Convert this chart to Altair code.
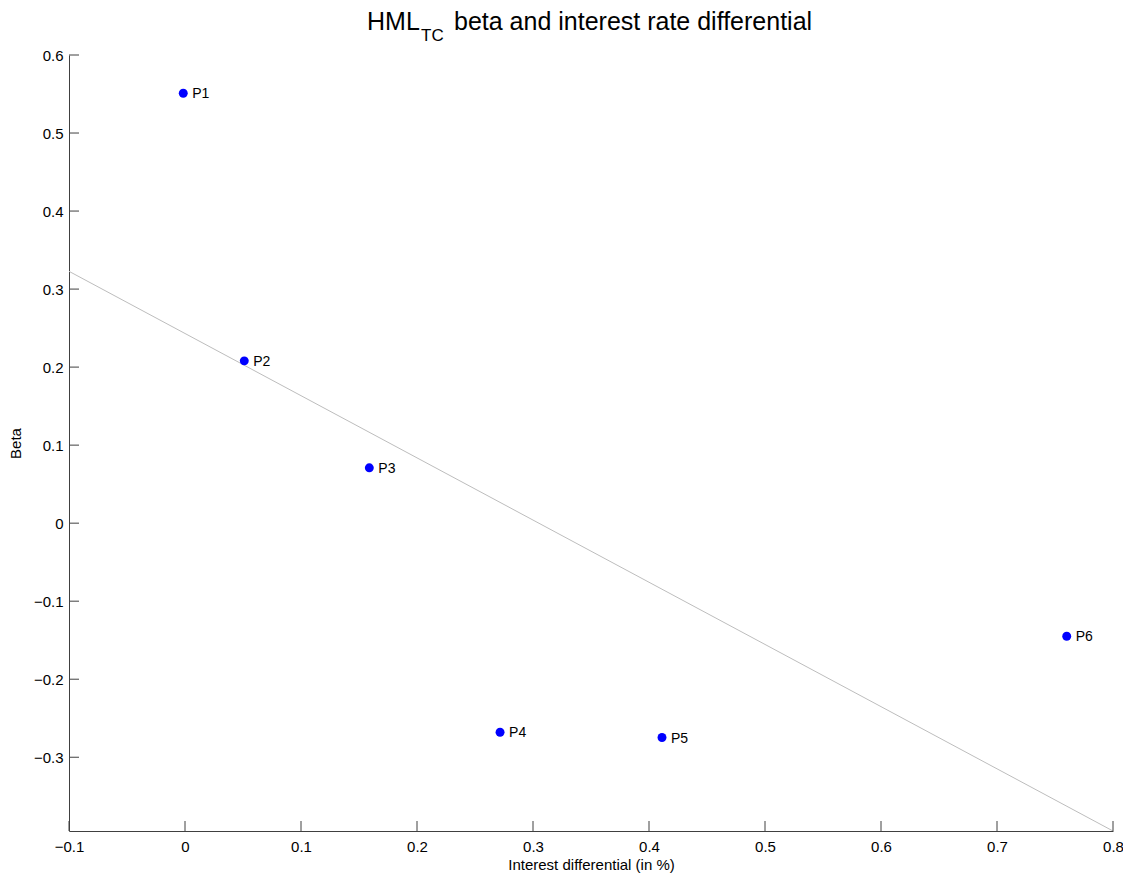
import altair as alt
import numpy as np
import pandas as pd

# Data
labels = ["P1", "P2", "P3", "P4", "P5", "P6"]
interest_diff = [-0.0015, 0.0511, 0.1589, 0.2716, 0.4112, 0.7601]
beta = [0.551, 0.208, 0.0709, -0.268, -0.2747, -0.1449]

x_ticks = [-0.1, 0, 0.1, 0.2, 0.3, 0.4, 0.5, 0.6, 0.7, 0.8]
y_ticks = [-0.3, -0.2, -0.1, 0, 0.1, 0.2, 0.3, 0.4, 0.5, 0.6]

df = pd.DataFrame({"label": labels, "x": interest_diff, "y": beta})

# lower y limit = regression line value at x = 0.8 (axis tight to the fit line)
slope, intercept = np.polyfit(interest_diff, beta, 1)
y_min = float(slope * 0.8 + intercept)

W, H = 1044, 776
FONT = "Liberation Sans"
AX = "#404040"

xs = alt.Scale(domain=[-0.1, 0.8], nice=False, zero=False)
ys = alt.Scale(domain=[y_min, 0.6], nice=False, zero=False)

x_axis = alt.Axis(values=x_ticks, format="~g", title="Interest differential (in %)",
                  grid=False, ticks=False, domainColor=AX, domainWidth=1, labelFlush=False,
                  labelFont=FONT, labelFontSize=15, labelColor="black", labelPadding=8,
                  titleFont=FONT, titleFontSize=15, titleFontWeight="normal", titleColor="black",
                  titlePadding=3)
y_axis = alt.Axis(values=y_ticks, format="~g", title="Beta",
                  grid=False, ticks=False, domainColor=AX, domainWidth=1, labelFlush=False,
                  labelFont=FONT, labelFontSize=15, labelColor="black", labelPadding=6,
                  titleFont=FONT, titleFontSize=15, titleFontWeight="normal", titleColor="black",
                  titlePadding=10)

base = alt.Chart(df)

fit = base.transform_regression("x", "y", extent=[-0.1, 0.8]).mark_line(
    color="#bdbdbd", strokeWidth=1, clip=True
).encode(x=alt.X("x:Q", scale=xs, axis=x_axis), y=alt.Y("y:Q", scale=ys, axis=y_axis))

pts = base.mark_point(filled=True, color="#0000ff", size=80, opacity=1, shape="circle").encode(
    x=alt.X("x:Q", scale=xs), y=alt.Y("y:Q", scale=ys)
)

txt = base.mark_text(align="left", baseline="middle", dx=9, dy=1, font=FONT, fontSize=14,
                     color="black").encode(
    x=alt.X("x:Q", scale=xs), y=alt.Y("y:Q", scale=ys), text="label:N"
)

xt = alt.Chart(pd.DataFrame({"t": x_ticks})).mark_rule(color=AX, strokeWidth=1).encode(
    x=alt.X("t:Q", scale=xs), y=alt.value(H), y2=alt.value(H - 10)
)
yt = alt.Chart(pd.DataFrame({"t": y_ticks})).mark_rule(color=AX, strokeWidth=1).encode(
    y=alt.Y("t:Q", scale=ys), x=alt.value(0), x2=alt.value(10)
)

# Title with subscript
t1 = alt.Chart(pd.DataFrame({"s": ["HML"]})).mark_text(
    align="left", baseline="alphabetic", font=FONT, fontSize=25, color="black"
).encode(text="s:N", x=alt.value(298), y=alt.value(-25))
t2 = alt.Chart(pd.DataFrame({"s": ["TC"]})).mark_text(
    align="left", baseline="alphabetic", font=FONT, fontSize=17, color="black"
).encode(text="s:N", x=alt.value(352), y=alt.value(-14))
t3 = alt.Chart(pd.DataFrame({"s": ["beta and interest rate differential"]})).mark_text(
    align="left", baseline="alphabetic", font=FONT, fontSize=25, color="black"
).encode(text="s:N", x=alt.value(385), y=alt.value(-25))

chart = alt.layer(fit, xt, yt, pts, txt, t1, t2, t3).properties(
    width=W, height=H,
    autosize=alt.AutoSizeParams(type="none"),
    padding={"left": 61, "top": 47, "right": 10, "bottom": 43},
).configure(background="white").configure_view(stroke=None)

chart.save("out.html", embed_options={"renderer": "svg", "actions": False})
